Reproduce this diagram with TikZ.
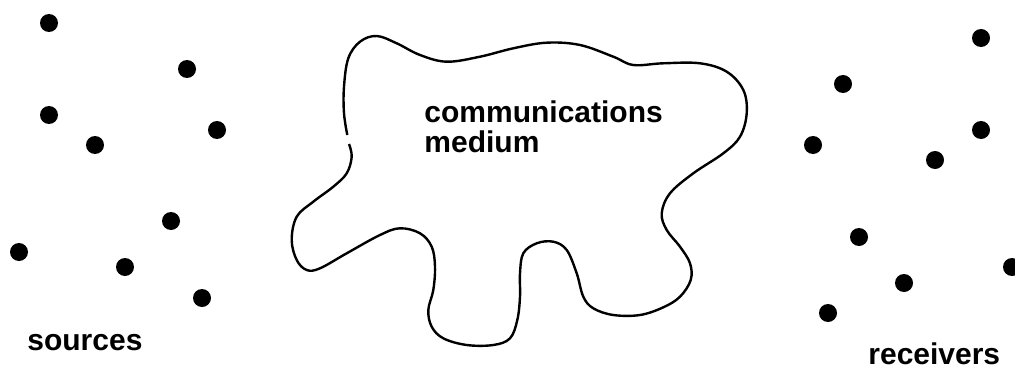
\documentclass[tikz,border=0pt]{standalone}
\usepackage{fontspec}
\setmainfont{Liberation Sans}

\begin{document}
\begin{tikzpicture}[x=0.5pt, y=-0.5pt,
  dot/.style={circle, fill, inner sep=0pt, minimum size=9pt},
  lbl/.style={font=\fontsize{15}{15}\selectfont\bfseries, inner sep=0pt, anchor=base west}]
  \useasboundingbox (0,0) rectangle (1015,369);
  % sources
  \foreach \n/\x/\y in {1/49/23, 2/187/69, 3/49/115, 4/95/145, 5/217/130,
                        6/171/221, 7/19/252, 8/125/267, 9/202/298}
    \node[dot] (s\n) at (\x,\y) {};
  % receivers
  \foreach \n/\x/\y in {1/981/38, 2/843/84, 3/813/145, 4/981/130, 5/935/160,
                        6/859/237, 7/1012/267, 8/904/283, 9/828/313}
    \node[dot] (r\n) at (\x,\y) {};
  % medium
  \draw[line width=1.2pt] plot[smooth, tension=0.6] coordinates {
    (349,144) (351.7,156.7) (346.7,173.3) (333.3,186.7) (313.3,201.7)
    (296.7,216.7) (291.7,240) (296.7,260) (306.7,270) (320,268.3)
    (346.7,253.3) (380,235) (400,228.3) (420,233.3) (431.7,246.7)
    (435,266.7) (433.3,290) (428.3,310) (431.7,326.7) (443.3,338.3)
    (466.7,345) (493.3,345) (510,338.3) (517.3,320) (520,296.7)
    (520,273.3) (523.3,253.3) (536.7,243.3) (553.3,241.7) (566.7,250)
    (576.7,273.3) (583.3,296.7) (593.3,308.3) (613.3,315) (640,315)
    (663.3,307.3) (680,296.7) (690.7,280) (690,263.3) (680,246.7)
    (666.7,230) (661.7,213.3) (670,193.3) (693.3,173.3) (723.3,153.3)
    (740,136.7) (746.7,113.3) (743.3,90) (726.7,71.7) (700,63.3)
    (663.3,63.3) (633.3,65) (613.3,56.7) (580,45) (546.7,42.7)
    (513.3,48.3) (480,56.7) (446.7,61.7) (420,55) (396.7,43.3)
    (376.7,36) (360,41.7) (348.3,58.3) (344,86.7) (344,113.3)
    (347.3,135)};
  \node[lbl, align=left] (med) at (424,152) {communications\\medium};
  \node[lbl] (src) at (27,350) {sources};
  \node[lbl] (rcv) at (868,364) {receivers};
\end{tikzpicture}
\end{document}
